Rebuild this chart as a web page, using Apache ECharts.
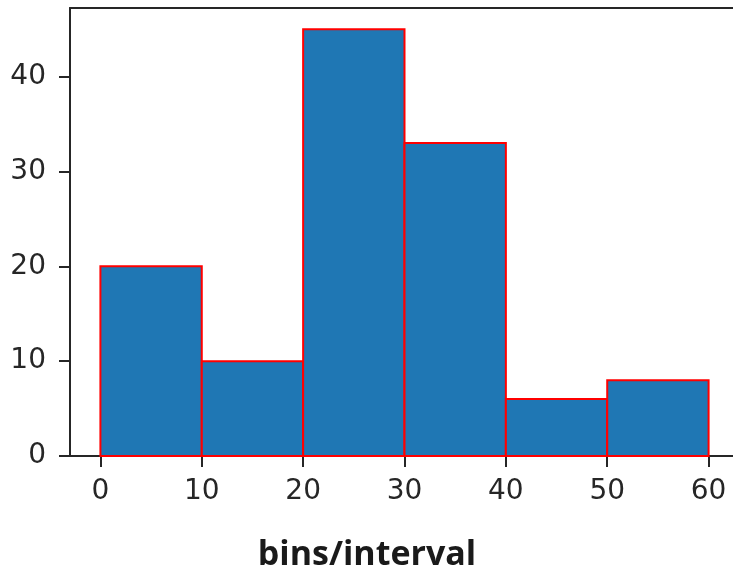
<!DOCTYPE html>
<html>
<head>
<meta charset="utf-8">
<script src="https://cdn.jsdelivr.net/npm/echarts@6/dist/echarts.min.js"></script>
<style>
  html, body { margin: 0; padding: 0; background: #fff; overflow: hidden; }
  /* 画布比窗口略宽, 右边框被裁掉 */
  #chart { width: 740px; height: 578px; }
</style>
</head>
<body>
<!--直方图-->
<div id="chart"></div>
<script>
// bin edges and counts
var binStarts = [0, 10, 20, 30, 40, 50]
var binEnds = [10, 20, 30, 40, 50, 60]
var counts = [20, 10, 45, 33, 6, 8]
var xTicks = [0, 10, 20, 30, 40, 50, 60]
var xLabelText = 'bins/interval'

var histData = []
for (var i = 0; i < counts.length; i++) {
  histData.push([binStarts[i], binEnds[i], counts[i]])
}

var myChart = echarts.init(document.getElementById('chart'))
var axisColor = '#262626'
var labelFont = { fontFamily: 'DejaVu Sans', fontSize: 28, color: '#262626' }

var option = {
  animation: false,
  grid: { left: 70, top: 8, right: 1, bottom: 122 },
  xAxis: [
    {
      type: 'value',
      min: -3,
      max: 63,
      axisLine: { show: true, onZero: false, lineStyle: { color: axisColor, width: 2 } },
      axisTick: { show: true, inside: false, length: 11, customValues: xTicks, lineStyle: { color: axisColor, width: 2 } },
      axisLabel: Object.assign({ margin: 22, customValues: xTicks }, labelFont),
      splitLine: { show: false }
    },
    {//上边框
      type: 'value',
      position: 'top',
      min: -3,
      max: 63,
      axisLine: { show: true, onZero: false, lineStyle: { color: axisColor, width: 2 } },
      axisTick: { show: false },
      axisLabel: { show: false },
      splitLine: { show: false }
    }
  ],
  yAxis: {
    type: 'value',
    min: 0,
    max: 47.25,
    interval: 10,
    axisLine: { show: true, onZero: false, lineStyle: { color: axisColor, width: 2 } },
    axisTick: { show: true, length: 11, lineStyle: { color: axisColor, width: 2 } },
    axisLabel: Object.assign({ margin: 24, showMaxLabel: false }, labelFont),
    splitLine: { show: false }
  },
  graphic: [
    {
      type: 'text',
      x: 367,
      y: 572,
      style: {
        text: xLabelText,
        fontFamily: 'Open Sans',
        fontWeight: 'bold',
        fontSize: 34,
        fill: '#1a1a1a',
        textAlign: 'center',
        textVerticalAlign: 'bottom'
      }
    }
  ],
  series: [
    {
      type: 'custom',
      data: histData,
      encode: { x: [0, 1], y: 2 },
      renderItem: function (params, api) {
        var p0 = api.coord([api.value(0), api.value(2)])
        var p1 = api.coord([api.value(1), 0])
        return {
          type: 'rect',
          shape: { x: p0[0], y: p0[1], width: p1[0] - p0[0], height: p1[1] - p0[1] },
          style: { fill: '#1f77b4', stroke: '#ff0000', lineWidth: 2 }
        }
      }
    }
  ]
}
myChart.setOption(option)
</script>
</body>
</html>
